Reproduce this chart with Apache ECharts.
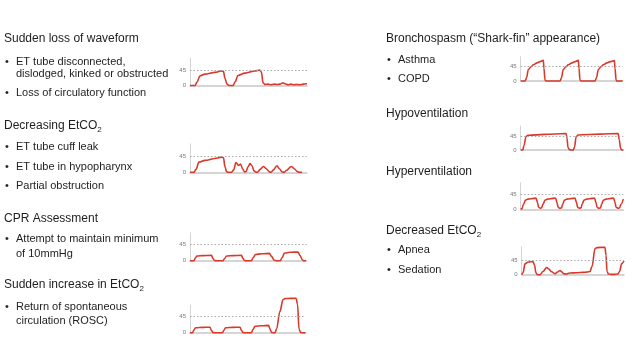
<!DOCTYPE html>
<html><head><meta charset="utf-8">
<script src="https://cdn.jsdelivr.net/npm/echarts@6/dist/echarts.min.js"></script>
<style>html,body{margin:0;padding:0;background:#fff}#c{width:640px;height:360px}</style>
</head><body><div id="c"></div>
<script>
// ---------- DATA (time index 0-100, EtCO2 in mmHg) ----------
const lossTime = [0,4.3,6.0,8.5,12.8,21.4,26.5,28.6,29.9,31.6,33.3,36.8,38.5,41.0,47.0,55.6,59.8,61.1,62.4,64.1,66.7,69.2,71.8,74.4,76.9,79.5,81.2,83.8,86.3,88.9,91.5,94.0,96.6,99.1,100];
const lossCO2  = [0,0,10,28,33,38,42,41,20,4,0,0,10,29,36,42,45,38,8,3,4,2,4,3,4,8,5,2,4,2,3,2,4,5,5];

const decrTime = [0,3.4,5.1,7.7,12.9,21.4,27.4,28.7,30.0,31.3,32.6,35.7,37.3,39.4,41.6,43.3,45.0,46.7,48.0,49.7,51.4,53.1,54.8,56.6,58.3,60.0,62.9,65.3,67.8,69.6,71.3,74.5,76.5,79.1,80.8,82.5,86.8,89.3,92.0,93.7,96.0];
const decrCO2  = [0,0,8,28,33,38,42,40,15,2,0,0,6,27,19,23,10,1,2,15,24,18,4,0,1,8,16,10,2,0,6,18,10,1,0,5,16,10,2,0,0];

const cprTime = [0,3.4,4.7,6.0,11.1,18.4,19.7,21.0,22.3,28.3,29.6,31.3,36.9,44.1,45.4,46.7,48.0,52.7,54.0,56.1,61.7,68.1,69.8,72.0,73.7,77.5,78.8,81.0,85.7,92.5,94.3,96.4,97.7,99.4];
const cprCO2  = [0,0,8,13,14,14.5,6,0.5,0,0,6,13,14,14.5,6,0.5,0,0,8,17,19,20,12,2,0,0,8,21,23,24,14,2,0,0];

const roscTime = [0,2.2,3.5,4.8,11.3,17.3,18.6,19.9,21.6,28.1,29.4,30.7,37.2,43.3,44.6,45.9,47.6,53.2,54.5,56.3,62.3,68.0,69.3,70.6,72.3,73.6,74.9,77.9,80.5,82.3,91.8,93.1,94.4,95.7,97.0,100];
const roscCO2  = [0,0,8,14,15,15.5,6,0.5,0,0,7,14,15,15.5,6,0.5,0,0,9,18,19.5,20.5,10,1,0,0,10,60,93,96,97,80,10,1,0,0];

const bronTime = [0,4.2,5.7,7.5,10.1,12.4,16.0,18.9,22.2,22.8,23.8,24.8,38.5,40.0,41.7,44.4,46.6,50.3,53.2,56.5,57.2,58.1,59.1,72.8,74.3,76.1,78.7,81.0,84.6,87.6,91.8,92.5,93.5,94.4,100];
const bronCO2  = [0,0,10,36,45,51,57,61,65,40,3,0,0,10,36,45,51,57,61,65,40,3,0,0,10,36,45,51,57,61,64,40,3,0,0];

const hypoTime = [0,2.0,3.2,5.2,7.1,23.7,44.2,45.1,46.1,47.6,49.1,51.3,52.5,54.0,55.9,77.4,95.0,96.0,97.4,98.4,100];
const hypoCO2  = [0,0,15,45,49,52,55,40,8,1,0,0,10,44,50,53,55,35,5,0,0];

const hyperTime = [0,1.3,2.7,4.7,7.1,13.0,14.9,16.4,17.4,19.1,20.3,21.7,23.7,26.2,31.5,33.9,35.4,36.4,38.3,39.8,40.8,42.7,45.1,51.0,52.9,54.4,55.4,57.5,58.8,59.8,61.7,64.2,69.5,71.9,73.4,74.4,76.3,77.8,78.8,80.7,83.2,88.1,90.5,92.0,92.9,95.2,96.3,97.8,100];
const hyperCO2  = [0,2,15,27,30,32,33,20,6,3,4,15,27,30,32,33,20,6,3,4,15,27,30,32,33,20,6,3,4,15,27,30,32,33,20,6,3,4,15,27,30,32,33,20,6,3,4,15,30];

const lowTime = [0,1.3,3.2,6.5,11.0,12.5,14.0,15.4,17.9,20.8,24.4,26.6,29.3,32.5,35.0,37.4,39.4,40.9,43.3,47.2,53.8,59.9,63.5,66.8,68.7,71.7,73.7,81.4,82.4,83.4,84.8,88.3,94.1,95.6,97.8,100];
const lowCO2  = [0,6,33,39,40,30,5,0,0,10,22,17,9,3,8,13,8,3,2,5,6,7,8,10,25,80,83,84,60,10,2,1,2,10,34,42];

// ---------- TEXT ----------
const leftTexts  = ['Sudden loss of waveform','ET tube disconnected,','dislodged, kinked or obstructed','Loss of circulatory function',
  'Decreasing EtCO2','ET tube cuff leak','ET tube in hypopharynx','Partial obstruction',
  'CPR Assessment','Attempt to maintain minimum','of 10mmHg',
  'Sudden increase in EtCO2','Return of spontaneous','circulation (ROSC)'];
const leftKinds  = ['h','b','c','b','h','b','b','b','h','b','c','h','b','c'];
const rightTexts = ['Bronchospasm (\u201CShark-fin\u201D appearance)','Asthma','COPD','Hypoventilation','Hyperventilation','Decreased EtCO2','Apnea','Sedation'];
const rightKinds = ['h','b','b','h','h','h','b','b'];
const yTickLabels = ['0','45'];

// ---------- LAYOUT ----------
const leftY  = [39,61.5,74,93,126,146.7,166.7,186,218.3,239.3,253.5,285,306.7,320.7];
const rightY = [38.3,60,79.3,113.3,171.7,230.7,250,270];
const panels = [
  {t:lossTime,  v:lossCO2,  left:190,   right:307,   top:58,    y45:70,    base:85.5},
  {t:decrTime,  v:decrCO2,  left:190,   right:306.7, top:144,   y45:156,   base:172.3},
  {t:cprTime,   v:cprCO2,   left:190,   right:306.7, top:232.7, y45:244.3, base:260.7},
  {t:roscTime,  v:roscCO2,  left:190,   right:305.5, top:305,   y45:316.7, base:332.7},
  {t:bronTime,  v:bronCO2,  left:520.7, right:622.7, top:56.7,  y45:66.7,  base:81},
  {t:hypoTime,  v:hypoCO2,  left:520.7, right:623.3, top:126,   y45:136.5, base:150},
  {t:hyperTime, v:hyperCO2, left:520.7, right:623.3, top:182.7, y45:194,   base:209.3},
  {t:lowTime,   v:lowCO2,   left:521.7, right:624,   top:246.7, y45:260,   base:274.7}
];
const FONT = '"Liberation Sans", Arial, Helvetica, sans-serif';
const RED = '#d9392b';

const grids=[], xAxes=[], yAxes=[], series=[];
panels.forEach((p,i)=>{
  const h = p.base - p.top;
  const ymax = 45 * h / (p.base - p.y45);
  grids.push({left:p.left, top:p.top, width:p.right-p.left, height:h});
  xAxes.push({type:'value', gridIndex:i, min:0, max:100,
    axisLine:{show:true, lineStyle:{color:'#c8c8c8', width:1.5}},
    axisTick:{show:false}, axisLabel:{show:false}, splitLine:{show:false}});
  yAxes.push({type:'value', gridIndex:i, min:0, max:ymax, interval:45,
    axisLine:{show:true, lineStyle:{color:'#d4d4d4', width:1}},
    axisTick:{show:false}, splitLine:{show:false},
    axisLabel:{fontSize:6, color:'#777', margin:4, fontFamily:FONT,
      formatter: v => yTickLabels.includes(String(v)) ? String(v) : ''}});
  series.push({type:'line', xAxisIndex:i, yAxisIndex:i,
    data: p.t.map((x,k)=>[x, p.v[k]]),
    showSymbol:false, symbol:'none', smooth:0.35, smoothMonotone:'x', clip:false,
    lineStyle:{color:RED, width:1.6}, z:3,
    markLine:{silent:true, symbol:'none', label:{show:false}, animation:false,
      lineStyle:{color:'#a8a8a8', type:[1.5,2], width:1}, data:[{yAxis:45}]}});
});

function textEl(str, kind, x, y){
  const els = [];
  const isHead = kind === 'h';
  const size = isHead ? 12 : 11;
  const tx = kind === 'h' ? x : x + 12;
  let style = {x:tx, y:y, fill:'#1e1e1e', fontSize:size, fontFamily:FONT, verticalAlign:'middle', align:'left'};
  if (/CO2$/.test(str)) {
    style.text = '{a|' + str.slice(0,-1) + '}{s|2}';
    style.rich = {a:{fontSize:size, fontFamily:FONT, fill:'#1e1e1e', lineHeight:16},
                  s:{fontSize:8, fontFamily:FONT, fill:'#1e1e1e', lineHeight:8, verticalAlign:'bottom'}};
  } else style.text = str;
  els.push({type:'text', silent:true, style});
  if (kind === 'b') els.push({type:'text', silent:true, style:{x:x+1, y:y, text:'\u2022', fill:'#1e1e1e', fontSize:11, fontFamily:FONT, verticalAlign:'middle'}});
  return els;
}
let graphics = [];
leftTexts.forEach((s,i)=>{ graphics = graphics.concat(textEl(s, leftKinds[i], 4, leftY[i])); });
rightTexts.forEach((s,i)=>{ graphics = graphics.concat(textEl(s, rightKinds[i], 386, rightY[i])); });

const chart = echarts.init(document.getElementById('c'), null, {renderer:'canvas'});
chart.setOption({
  animation:false,
  backgroundColor:'#fff',
  grid:grids, xAxis:xAxes, yAxis:yAxes, series:series,
  graphic:{elements:graphics}
});
</script></body></html>
